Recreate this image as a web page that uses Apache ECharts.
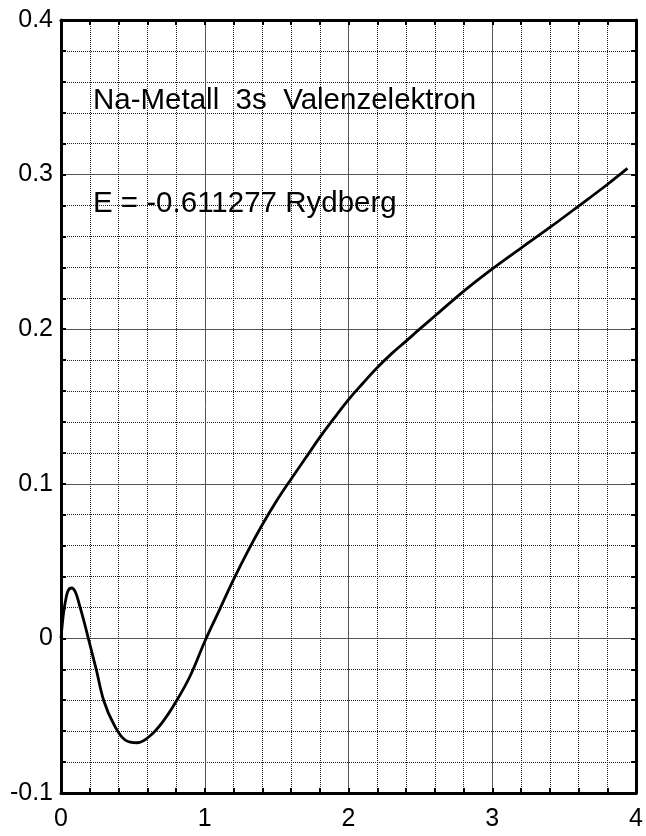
<!DOCTYPE html>
<html>
<head>
<meta charset="utf-8">
<script src="https://cdn.jsdelivr.net/npm/echarts@6/dist/echarts.min.js"></script>
<style>
html,body{margin:0;padding:0;background:#fff;}
#c{width:646px;height:836px;}
</style>
</head>
<body>
<div id="c"></div>
<script>
var xValues = [0, 0.01, 0.02, 0.035, 0.05, 0.073, 0.1, 0.13, 0.16, 0.19, 0.245, 0.3, 0.37, 0.45, 0.53, 0.62, 0.715, 0.806, 0.9, 1.0, 1.1, 1.2, 1.3, 1.4, 1.5, 1.6, 1.7, 1.8, 1.9, 2.0, 2.1, 2.2, 2.3, 2.4, 2.5, 2.6, 2.8, 3.0, 3.2, 3.4, 3.6, 3.8, 3.94];
var yValues = [0, 0.010, 0.018, 0.026, 0.031, 0.0326, 0.030, 0.021, 0.011, 0, -0.020, -0.041, -0.056, -0.066, -0.0675, -0.063, -0.053, -0.040, -0.024, -0.002, 0.018, 0.038, 0.0565, 0.0735, 0.089, 0.103, 0.1165, 0.130, 0.1425, 0.1545, 0.165, 0.1752, 0.1842, 0.1923, 0.2005, 0.2085, 0.2245, 0.239, 0.2525, 0.2658, 0.2796, 0.2936, 0.304];
var annotationLines = ['Na-Metall  3s  Valenzelektron', 'E = -0.611277 Rydberg'];

var FONT = '"Liberation Sans", Arial, sans-serif';
var points = xValues.map(function (x, i) { return [x, yValues[i]]; });

function frameAxis(extra) {
  var base = {
    type: 'value',
    axisLine: { show: true, onZero: false, lineStyle: { color: '#000', width: 3 } },
    axisTick: { show: true, inside: true, length: 5, lineStyle: { color: '#000', width: 2 } },
    minorTick: { show: true, splitNumber: 5, length: 5, lineStyle: { color: '#000', width: 2 } },
    splitLine: { show: false },
    minorSplitLine: { show: false },
    axisLabel: { show: false }
  };
  for (var k in extra) base[k] = extra[k];
  return base;
}

var chart = echarts.init(document.getElementById('c'), null, { renderer: 'canvas' });
chart.setOption({
  backgroundColor: '#fff',
  animation: false,
  grid: { left: 61, right: 5, top: 20, bottom: 43, containLabel: false },
  xAxis: [
    frameAxis({
      min: 0, max: 4, interval: 1, position: 'bottom',
      splitLine: { show: true, lineStyle: { color: '#555', width: 1, type: 'solid' } },
      minorSplitLine: { show: true, lineStyle: { color: '#222', width: 1, type: 'dotted' } },
      axisLabel: { show: true, color: '#000', fontSize: 25, fontFamily: FONT, margin: 14 }
    }),
    frameAxis({ min: 0, max: 4, interval: 1, position: 'top' })
  ],
  yAxis: [
    frameAxis({
      min: -0.1, max: 0.4, interval: 0.1, position: 'left',
      splitLine: { show: true, lineStyle: { color: '#555', width: 1, type: 'solid' } },
      minorSplitLine: { show: true, lineStyle: { color: '#222', width: 1, type: 'dotted' } },
      axisLabel: { show: true, color: '#000', fontSize: 25, fontFamily: FONT, margin: 8 }
    }),
    frameAxis({ min: -0.1, max: 0.4, interval: 0.1, position: 'right' })
  ],
  series: [{
    type: 'line',
    xAxisIndex: 0,
    yAxisIndex: 0,
    data: points,
    smooth: 0.4,
    showSymbol: false,
    lineStyle: { color: '#000', width: 2.8 },
    z: 5
  }],
  graphic: [
    { type: 'text', left: 93, top: 86, z: 10,
      style: { text: annotationLines[0], fill: '#000', font: '29.5px ' + FONT } },
    { type: 'text', left: 93, top: 189, z: 10,
      style: { text: annotationLines[1], fill: '#000', font: '29.5px ' + FONT } }
  ]
});
</script>
</body>
</html>
